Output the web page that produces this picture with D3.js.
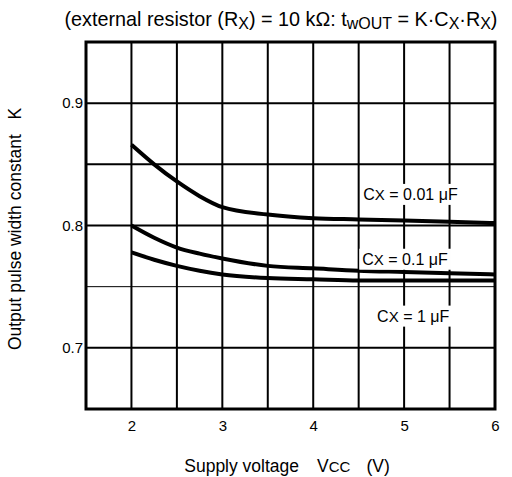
<!DOCTYPE html>
<html>
<head>
<meta charset="utf-8">
<script src="https://cdn.jsdelivr.net/npm/d3@7"></script>
<style>
  body { margin: 0; background: #fff; }
  svg { display: block; }
  text { font-family: "Liberation Sans", Arial, sans-serif; fill: #000; }
</style>
</head>
<body>
<svg id="svg" width="512" height="477"></svg>
<script>
// supply voltage (V)
let vcc = [2, 2.25, 2.5, 2.75, 3, 3.5, 4, 4.5, 5, 5.5, 6]

// K values for each timing capacitor
let k001 = [0.866, 0.850, 0.836, 0.824, 0.815, 0.809, 0.806, 0.805, 0.804, 0.803, 0.802]
let k01 = [0.800, 0.790, 0.782, 0.777, 0.773, 0.767, 0.765, 0.763, 0.762, 0.761, 0.760]
let k1 = [0.778, 0.772, 0.767, 0.763, 0.760, 0.757, 0.756, 0.755, 0.755, 0.755, 0.755]

let xTicks = [2, 3, 4, 5, 6]
let yTicks = [0.7, 0.8, 0.9]
let xGrid = [2, 2.5, 3, 3.5, 4, 4.5, 5, 5.5]
let yGrid = [0.7, 0.75, 0.8, 0.85, 0.9]

let curveLabels = [
  { name: '0.01 μF', v: 5.07, k: 0.8255 },
  { name: '0.1 μF', v: 5.01, k: 0.7725 },
  { name: '1 μF', v: 5.1, k: 0.726 }
]

let svg = d3.select('#svg')

let mLeft = 86, mRight = 495, mTop = 42, mBottom = 409

let x = d3.scaleLinear().domain([1.5, 6]).range([mLeft, mRight])
let y = d3.scaleLinear().domain([0.65, 0.95]).range([mBottom, mTop])

// grid
svg.selectAll('.vgrid')
  .data(xGrid)
  .enter()
  .append('line')
  .attr('x1', d => x(d)).attr('x2', d => x(d))
  .attr('y1', mTop).attr('y2', mBottom)
  .attr('stroke', '#000')
  .attr('stroke-width', 2)

svg.selectAll('.hgrid')
  .data(yGrid)
  .enter()
  .append('line')
  .attr('x1', mLeft).attr('x2', mRight)
  .attr('y1', d => y(d)).attr('y2', d => y(d))
  .attr('stroke', '#000')
  .attr('stroke-width', d => d === 0.75 ? 1 : 2)

// curves
let line = d3.line()
  .x(d => x(d[0]))
  .y(d => y(d[1]))
  .curve(d3.curveMonotoneX)

let series = [k001, k01, k1]
svg.selectAll('.curve')
  .data(series)
  .enter()
  .append('path')
  .attr('d', d => line(vcc.map((v, i) => [v, d[i]])))
  .attr('fill', 'none')
  .attr('stroke', '#000')
  .attr('stroke-width', 4)

// curve labels with white box
let lab = svg.selectAll('.lab')
  .data(curveLabels)
  .enter()
  .append('g')
  .attr('transform', d => 'translate(' + x(d.v) + ',' + y(d.k) + ')')

lab.append('rect')
  .attr('fill', '#fff')
lab.append('text')
  .attr('text-anchor', 'middle')
  .attr('dy', '0.35em')
  .attr('font-size', 16)
  .each(function (d) {
    let t = d3.select(this)
    t.append('tspan').text('C')
    t.append('tspan').attr('font-size', 15).text('X')
    t.append('tspan').text(' = ' + d.name)
  })
lab.each(function () {
  let g = d3.select(this)
  let b = g.select('text').node().getBBox()
  g.select('rect')
    .attr('x', b.x - 3).attr('y', b.y - 2)
    .attr('width', b.width + 6).attr('height', b.height + 4)
})

// frame
svg.append('rect')
  .attr('x', mLeft).attr('y', mTop)
  .attr('width', mRight - mLeft).attr('height', mBottom - mTop)
  .attr('fill', 'none')
  .attr('stroke', '#000')
  .attr('stroke-width', 3)

// axes
svg.append('g')
  .attr('transform', 'translate(0,' + mBottom + ')')
  .call(d3.axisBottom(x).tickValues(xTicks).tickSize(0).tickPadding(11).tickFormat(d3.format('d')))
  .call(g => g.select('.domain').remove())
  .selectAll('text').attr('font-size', 15).style('font-family', '"Liberation Sans", Arial, sans-serif')

svg.append('g')
  .attr('transform', 'translate(' + mLeft + ',0)')
  .call(d3.axisLeft(y).tickValues(yTicks).tickSize(0).tickPadding(3).tickFormat(d3.format('.1f')))
  .call(g => g.select('.domain').remove())
  .selectAll('text').attr('font-size', 15).style('font-family', '"Liberation Sans", Arial, sans-serif')

// title
let title = svg.append('text')
  .attr('x', 281).attr('y', 26)
  .attr('text-anchor', 'middle')
  .attr('font-size', 19.8)
title.append('tspan').text('(external resistor (R')
title.append('tspan').attr('font-size', 16).attr('dy', 3).text('X')
title.append('tspan').attr('dy', -3).text(') = 10 kΩ: t')
title.append('tspan').attr('font-size', 16).attr('dy', 3).text('wOUT')
title.append('tspan').attr('dy', -3).text(' = K·C')
title.append('tspan').attr('font-size', 16).attr('dy', 3).text('X')
title.append('tspan').attr('dy', -3).text('·R')
title.append('tspan').attr('font-size', 16).attr('dy', 3).text('X')
title.append('tspan').attr('dy', -3).text(')')

// x label
let xl = svg.append('text')
  .attr('x', 287).attr('y', 472)
  .attr('text-anchor', 'middle')
  .attr('font-size', 17.5)
xl.append('tspan').text('Supply voltage')
xl.append('tspan').attr('dx', 18).text('V')
xl.append('tspan').attr('font-size', 15).text('CC')
xl.append('tspan').attr('dx', 16).text('(V)')

// y label
svg.append('text')
  .attr('transform', 'translate(21,229) rotate(-90)')
  .attr('text-anchor', 'middle')
  .attr('font-size', 17.5)
  .attr('xml:space', 'preserve')
  .text('Output pulse width constant   K')
</script>
</body>
</html>
